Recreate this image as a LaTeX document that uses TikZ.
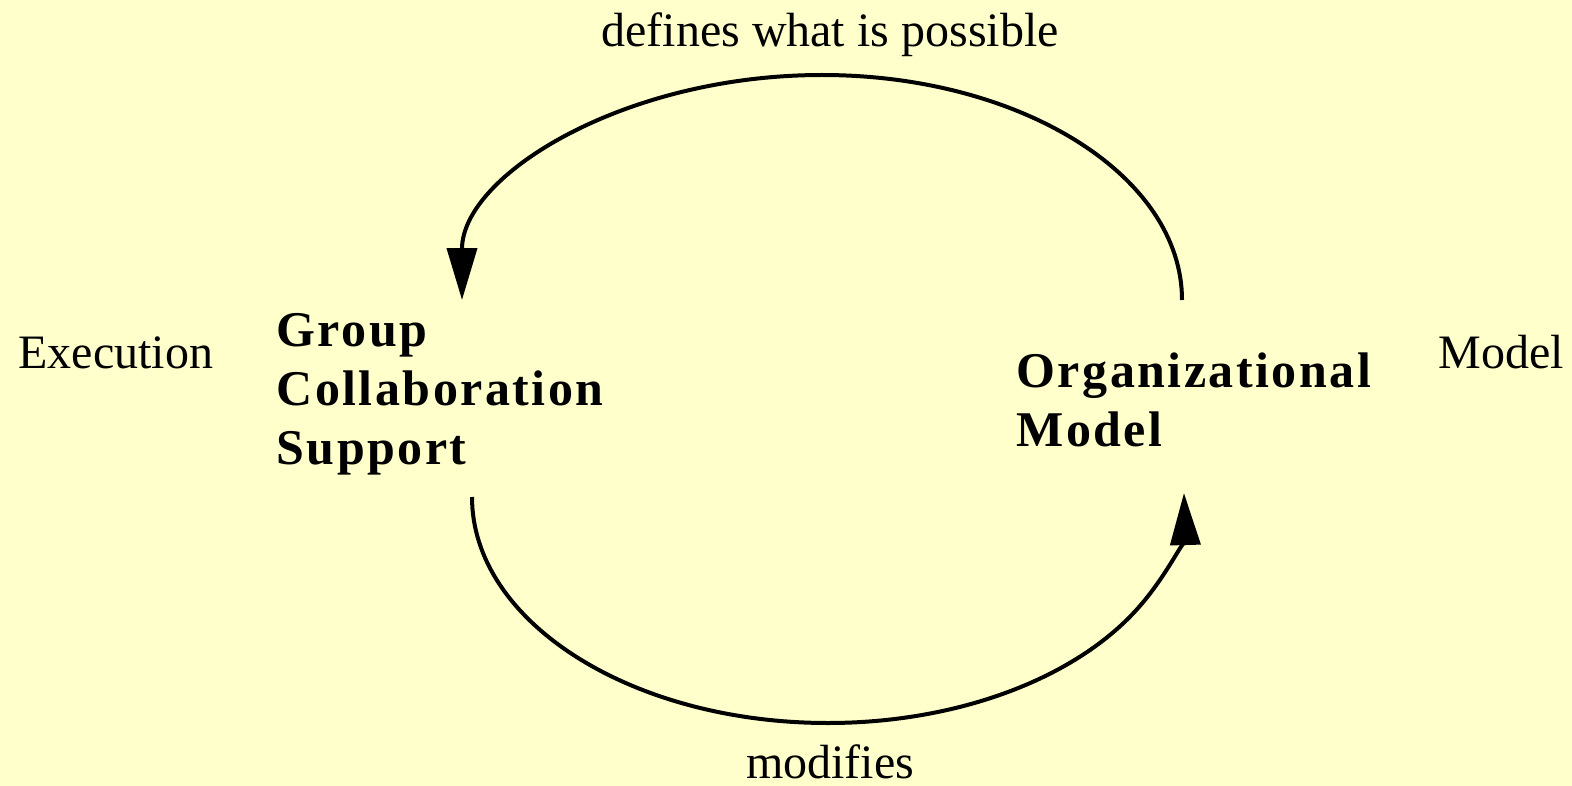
\documentclass[tikz,border=0pt]{standalone}
\usepackage{fontspec}
\setmainfont{Liberation Serif}
\usetikzlibrary{arrows.meta}
\definecolor{bgyellow}{RGB}{255,255,204}
\newfontfamily\spacedbold[LetterSpace=5]{Liberation Serif Bold}
\tikzset{
  lbl/.style={inner sep=0pt, font=\fontsize{24}{28}\selectfont},
  boldlbl/.style={inner sep=0pt, align=left, font=\spacedbold\fontsize{25}{29.5}\selectfont},
  flow/.style={line width=2pt, -{Triangle[length=26pt,width=15pt]}}
}
\begin{document}
\begin{tikzpicture}[x=0.5pt,y=-0.5pt]
\fill[bgyellow] (0,0) rectangle (1572,786);
\useasboundingbox (0,0) rectangle (1572,786);
\node[lbl, anchor=base] (top) at (830,47) {defines what is possible};
\node[lbl, anchor=base] (bot) at (830,778) {modifies};
\node[lbl, anchor=base west] (exec) at (18,368) {Execution};
\node[lbl, anchor=base west] (model) at (1438,368) {Model};
\node[boldlbl, anchor=north west] (gcs) at (276,313) {Group\\Collaboration\\Support};
\node[boldlbl, anchor=north west] (om) at (1016,352) {Organizational\\Model};
\coordinate (tr) at (1182,300);
\coordinate (bl) at (472,497);
\draw[flow] (tr) arc[start angle=0, end angle=-180, x radius=360, y radius=225];
\draw[flow] (bl) arc[start angle=180, end angle=-1, x radius=356, y radius=226];
\end{tikzpicture}
\end{document}
